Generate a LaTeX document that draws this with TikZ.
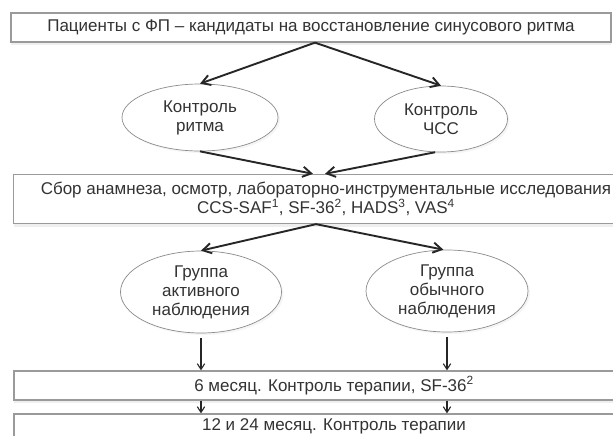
\documentclass[tikz,border=0pt]{standalone}
\usepackage{fontspec}
\setmainfont{Liberation Sans}
\usetikzlibrary{positioning, arrows.meta, calc, shadows, shapes.geometric}
\definecolor{framegray}{HTML}{9A9A9A}
\definecolor{inkgray}{HTML}{333333}

\begin{document}
\begin{tikzpicture}[x=1pt, y=-1pt, font=\fontsize{17}{19}\selectfont, text=inkgray,
    stagebox/.style={draw=framegray, line width=1.3pt, fill=white, inner sep=0pt, align=center,
      drop shadow={opacity=0.12, shadow xshift=0pt, shadow yshift=-3pt}},
    groupell/.style={ellipse, draw=framegray!90!black, line width=0.7pt, fill=white, inner sep=0pt, align=center,
      drop shadow={opacity=0.08, shadow xshift=2pt, shadow yshift=-2pt}},
    mainarrow/.style={-{Straight Barb[length=3mm, width=3.6mm]}, line width=1.9pt, black!85},
    steparrow/.style={-{Straight Barb[length=2mm, width=2.6mm]}, line width=1.1pt, black!85}]
  \useasboundingbox (0,0) rectangle (613,436);
  \clip (0,0) rectangle (613,436);
  \fill[white] (0,0) rectangle (613,436);

  \node[stagebox, minimum width=600pt, minimum height=29pt] (top) at (311,27.5)
    {Пациенты с ФП -- кандидаты на восстановление синусового ритма};
  \node[groupell, minimum width=156pt, minimum height=67pt] (ell1) at (200,117.5) {Контроль\\ритма};
  \node[groupell, minimum width=133pt, minimum height=66pt] (ell2) at (441,119) {Контроль\\ЧСС};
  \node[stagebox, minimum width=625pt, minimum height=49pt] (exam) at (326,199)
    {Сбор анамнеза, осмотр, лабораторно-инструментальные исследования\\
     CCS-SAF\textsuperscript{1}, SF-36\textsuperscript{2}, HADS\textsuperscript{3}, VAS\textsuperscript{4}};
  \node[groupell, minimum width=161pt, minimum height=82pt] (ell3) at (201,292) {Группа\\активного\\наблюдения};
  \node[groupell, minimum width=162pt, minimum height=82pt] (ell4) at (447,291) {Группа\\обычного\\наблюдения};
  \node[stagebox, minimum width=640pt, minimum height=29pt] (six) at (334,385.5)
    {6 месяц. Контроль терапии, SF-36\textsuperscript{2}};
  \node[stagebox, minimum width=640pt, minimum height=24pt] (year) at (334,426)
    {12 и 24 месяц. Контроль терапии};

  % choice of strategy
  \draw[mainarrow] ($(top.south)+(4,0)$) -- (ell1.north);
  \draw[mainarrow] ($(top.south)+(4,0)$) -- (ell2.north);
  \draw[mainarrow] (ell1.south) -- ($(exam.north -| top.south)+(2,0)$);
  \draw[mainarrow] (ell2.260) -- ($(exam.north -| top.south)+(14,0)$);

  % randomisation
  \draw[mainarrow] ($(exam.south -| top.south)+(5,0)$) -- (ell3.north);
  \draw[mainarrow] ($(exam.south -| top.south)+(5,0)$) -- (ell4.95);

  % follow-up
  \draw[steparrow] ([yshift=-5pt]ell3.south) -- (six.north -| ell3.south);
  \draw[steparrow] ([yshift=-5pt]ell4.south) -- (six.north -| ell4.south);
  \draw[steparrow] (six.south -| ell3.south) -- (year.north -| ell3.south);
  \draw[steparrow] (six.south -| ell4.south) -- (year.north -| ell4.south);
\end{tikzpicture}
\end{document}
